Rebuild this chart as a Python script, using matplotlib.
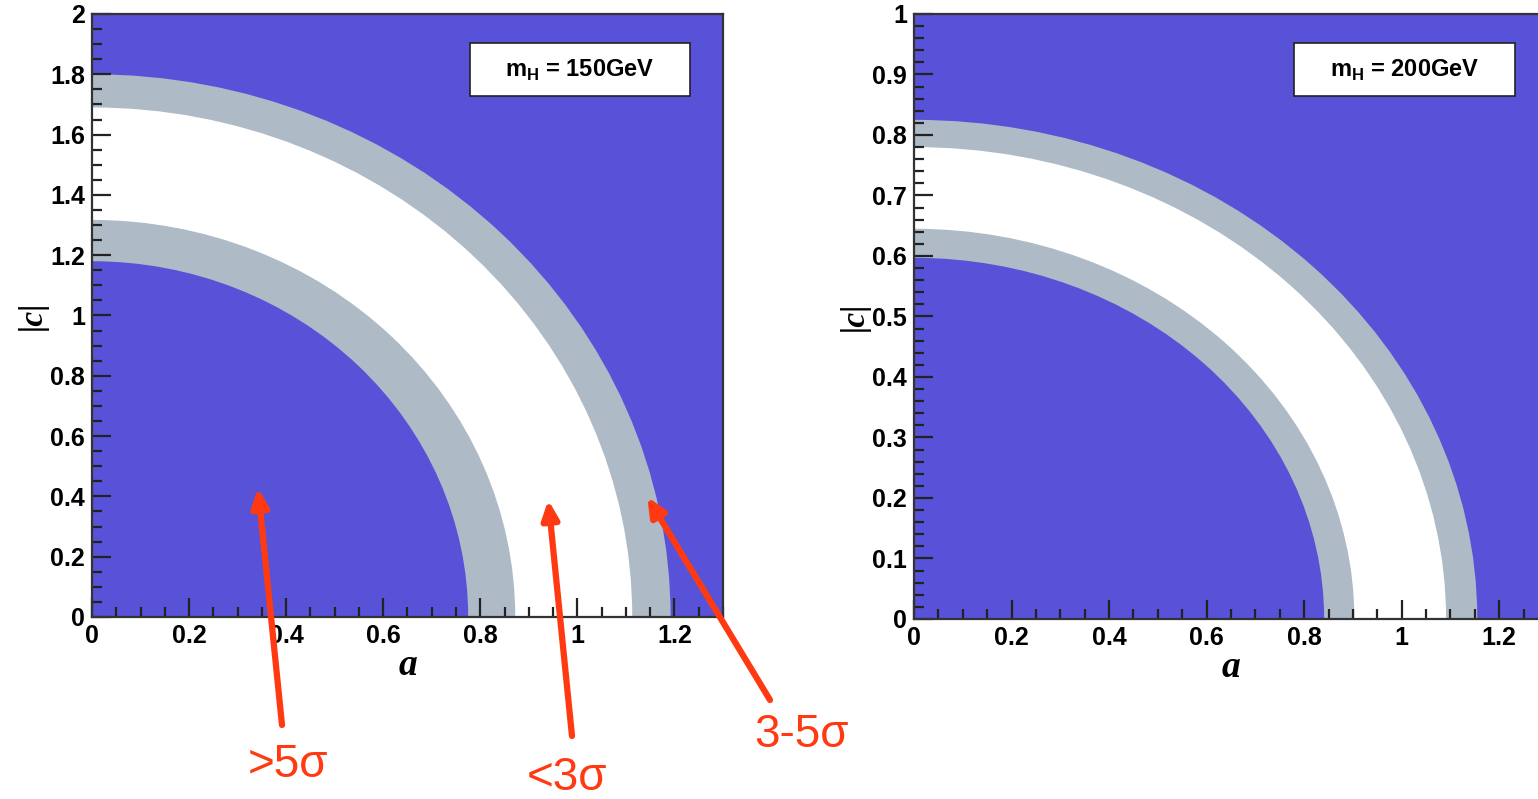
import matplotlib.pyplot as plt
from matplotlib.patches import Ellipse, Rectangle
from matplotlib.ticker import MultipleLocator

plt.rcParams["font.family"] = ["Liberation Sans", "DejaVu Sans"]
plt.rcParams["mathtext.fontset"] = "custom"
plt.rcParams["mathtext.bf"] = "Liberation Sans:bold"
plt.rcParams["mathtext.rm"] = "Liberation Sans:bold"

# band edges (semi-axes): >5s | 3-5s | <3s | 3-5s | >5s
a_150 = [0.775, 0.872, 1.113, 1.192]
c_150 = [1.18, 1.317, 1.69, 1.80]
a_200 = [0.841, 0.903, 1.091, 1.155]
c_200 = [0.597, 0.645, 0.78, 0.825]

labels = ["150GeV", "200GeV"]
ylims = [2.0, 1.0]
ymajor = [0.2, 0.1]
yminor = [0.05, 0.02]

blue = "#5852d8"
grey = "#aebbc6"
red = "#ff3a12"

fig = plt.figure(figsize=(15.38, 7.99), dpi=100)
ax1 = fig.add_axes([0.0598, 0.2278, 0.4103, 0.7547])
ax2 = fig.add_axes([0.5943, 0.2253, 0.4122, 0.7572])

for ax, a_e, c_e, lab, ytop, ymj, ymn in zip(
        [ax1, ax2], [a_150, a_200], [c_150, c_200], labels, ylims, ymajor, yminor):
    ax.set_facecolor(blue)
    fills = [grey, "white", grey, blue]
    for k, col in zip([3, 2, 1, 0], fills):
        ax.add_patch(Ellipse((0, 0), 2 * a_e[k], 2 * c_e[k], facecolor=col,
                             edgecolor="none", zorder=1))
    ax.set_xlim(0, 1.3)
    ax.set_ylim(0, ytop)
    ax.xaxis.set_major_locator(MultipleLocator(0.2))
    ax.xaxis.set_minor_locator(MultipleLocator(0.05))
    ax.yaxis.set_major_locator(MultipleLocator(ymj))
    ax.yaxis.set_minor_locator(MultipleLocator(ymn))
    ax.xaxis.set_major_formatter(lambda v, p: f"{v:g}")
    ax.yaxis.set_major_formatter(lambda v, p: f"{v:g}")
    ax.tick_params(which="both", direction="in", top=False, right=False,
                   labelsize=18, width=1.6, color="#222222", zorder=5)
    ax.tick_params(which="major", length=14, pad=5)
    ax.tick_params(which="minor", length=7)
    for lbl in ax.get_xticklabels() + ax.get_yticklabels():
        lbl.set_fontweight("bold")
    for s in ax.spines.values():
        s.set_linewidth(1.6)
        s.set_color("#333333")
        s.set_zorder(6)
    ax.set_xlabel("a", fontsize=27, fontweight="bold", style="italic",
                  family="Liberation Serif", labelpad=0)
    ax.set_ylabel("|c|", fontsize=24, fontweight="bold", style="italic",
                  family="Liberation Serif", labelpad=2)
    ax.add_patch(Rectangle((0.599, 0.864), 0.349, 0.088, transform=ax.transAxes,
                           facecolor="white", edgecolor="#222222", lw=1.2, zorder=7))
    ax.text(0.7735, 0.906, r"m$_\mathbf{H}$ = " + lab, transform=ax.transAxes,
            ha="center", va="center", fontsize=17, fontweight="bold", zorder=8)

# annotations on the left panel
notes = [(">5\u03c3", (0.342, 0.428), (282, 74), (288, 34)),
         ("<3\u03c3", (0.94, 0.388), (572, 63), (567, 21)),
         ("3-5\u03c3", (1.144, 0.398), (770, 99), (802, 64))]
for txt, tip, tail, pos in notes:
    ax1.annotate("", xy=tip, xycoords="data", xytext=tail,
                 textcoords="figure pixels", annotation_clip=False,
                 arrowprops=dict(arrowstyle="-|>,head_length=1.1,head_width=0.5",
                                 color=red, lw=4.5, shrinkA=0, shrinkB=0),
                 zorder=10)
    fig.text(pos[0] / 1538, pos[1] / 799, txt, color=red, fontsize=33,
             family=["Liberation Sans", "DejaVu Sans"], ha="center", va="center")

fig.savefig("out.png", dpi=100)
